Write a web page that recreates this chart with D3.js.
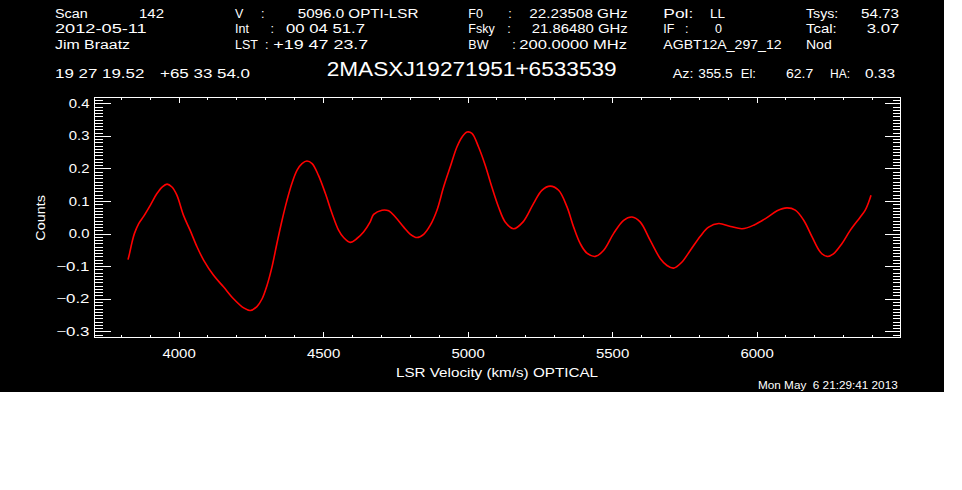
<html>
  <head>
    <meta charset="utf-8">
    <script src="https://d3js.org/d3.v7.min.js"></script>
    <style type="text/css">
      body {
        margin: 0;
        padding: 0;
        background: #fff;
      }
      svg text {
        font-family: 'Liberation Sans', sans-serif;
        fill: #fff;
      }
    </style>
  </head>
  <body>
    <svg id="chart" width="962" height="490"></svg>

    <script>
      /* Spectrum */
      const velocity = [3825, 3830, 3839, 3847, 3862, 3879, 3902, 3925, 3943, 3960,
        3977, 3994, 4017, 4040, 4064, 4087, 4121, 4156, 4190, 4225,
        4248, 4271, 4289, 4306, 4323, 4340, 4358, 4375, 4392, 4410,
        4427, 4444, 4462, 4484, 4508, 4531, 4554, 4571, 4594, 4617,
        4640, 4663, 4675, 4704, 4727, 4750, 4779, 4802, 4825, 4848,
        4871, 4894, 4917, 4940, 4963, 4981, 4998, 5015, 5038, 5061,
        5084, 5107, 5130, 5159, 5192, 5228, 5257, 5286, 5315, 5344,
        5367, 5390, 5413, 5442, 5471, 5505, 5540, 5569, 5597, 5632,
        5667, 5690, 5713, 5742, 5771, 5806, 5834, 5869, 5910, 5950,
        5990, 6036, 6071, 6105, 6134, 6163, 6192, 6221, 6244, 6266,
        6295, 6324, 6359, 6376, 6388, 6396]
      const counts = [-0.080, -0.062, -0.026, 0.000, 0.031, 0.053, 0.087, 0.123, 0.143, 0.152,
        0.143, 0.118, 0.056, 0.010, -0.041, -0.082, -0.128, -0.164, -0.200, -0.228,
        -0.236, -0.224, -0.200, -0.159, -0.103, -0.031, 0.041, 0.102, 0.154, 0.195,
        0.215, 0.223, 0.215, 0.179, 0.123, 0.062, 0.010, -0.012, -0.027, -0.015,
        0.005, 0.036, 0.059, 0.072, 0.070, 0.051, 0.020, -0.002, -0.012, -0.002,
        0.026, 0.072, 0.143, 0.205, 0.266, 0.297, 0.312, 0.308, 0.266, 0.210,
        0.143, 0.082, 0.036, 0.015, 0.036, 0.092, 0.133, 0.146, 0.133, 0.082,
        0.020, -0.031, -0.060, -0.070, -0.051, 0.000, 0.041, 0.051, 0.036, -0.021,
        -0.077, -0.098, -0.106, -0.087, -0.051, -0.007, 0.020, 0.031, 0.022, 0.015,
        0.026, 0.049, 0.070, 0.079, 0.072, 0.041, -0.010, -0.057, -0.070, -0.062,
        -0.031, 0.010, 0.051, 0.072, 0.097, 0.118]

      const xTicks = [4000, 4500, 5000, 5500, 6000]
      const yTicks = [-0.3, -0.2, -0.1, 0.0, 0.1, 0.2, 0.3, 0.4]
      const xDomain = [3709, 6498]
      const yDomain = [-0.319, 0.418]

      const sourceName = '2MASXJ19271951+6533539'
      const xTitle = 'LSR Velocity (km/s) OPTICAL'
      const yTitle = 'Counts'
      const stamp = 'Mon May  6 21:29:41 2013'

      /* header: [x, baseline, text, width] */
      const header = [
        [55, 18.3, 'Scan', 32.7], [139, 18.3, '142', 25],
        [55, 33.3, '2012-05-11', 91.7],
        [55, 49.3, 'Jim Braatz', 75],
        [235, 18.3, 'V'], [261, 18.3, ':'], [297.7, 18.3, '5096.0 OPTI-LSR', 120.7],
        [235, 33.3, 'Int'], [270.5, 33.3, ':'], [286, 33.3, '00 04 51.7', 79],
        [235, 49.3, 'LST', 23], [265, 49.3, ':'], [273.3, 49.3, '+19 47 23.7', 95],
        [468.3, 18.3, 'F0'], [508.3, 18.3, ':'], [529.3, 18.3, '22.23508 GHz', 98.3],
        [468.3, 33.3, 'Fsky'], [507.3, 33.3, ':'], [531.7, 33.3, '21.86480 GHz', 96],
        [468.3, 49.3, 'BW'], [512.3, 49.3, ':'], [519.3, 49.3, '200.0000 MHz', 107.7],
        [663.3, 18.3, 'Pol:', 30], [710, 18.3, 'LL', 15],
        [663.3, 33.3, 'IF'], [685, 33.3, ':'], [715, 33.3, '0'],
        [663.3, 49.3, 'AGBT12A_297_12', 118.3],
        [806, 18.3, 'Tsys:', 32.3], [861, 18.3, '54.73', 38],
        [806, 33.3, 'Tcal:', 30.7], [866.7, 33.3, '3.07', 32.7],
        [806, 49.3, 'Nod', 25.7],
        [55, 77.5, '19 27 19.52', 89.3], [160, 77.5, '+65 33 54.0', 90],
        [672.7, 77.5, 'Az:', 20.7], [698.3, 77.5, '355.5', 34.3],
        [740.7, 77.5, 'El:', 15.3], [786, 77.5, '62.7', 27.3],
        [830, 77.5, 'HA:', 20], [865, 77.5, '0.33', 30]
      ]

      const svg = d3.select('#chart')

      svg.append('rect')
        .attr('width', 944)
        .attr('height', 392)
        .style('fill', '#000')

      const margin = { left: 94.5, top: 97.5, right: 900.5, bottom: 337.5 }

      const x = d3.scaleLinear().domain(xDomain).range([margin.left, margin.right])
      const y = d3.scaleLinear().domain(yDomain).range([margin.bottom, margin.top])

      /* header text */
      svg.append('g')
        .selectAll('text')
        .data(header)
        .join('text')
        .attr('x', d => d[0])
        .attr('y', d => d[1])
        .attr('font-size', '12.5px')
        .attr('xml:space', 'preserve')
        .each(function (d) {
          if (d[3]) {
            d3.select(this)
              .attr('textLength', d[3])
              .attr('lengthAdjust', 'spacingAndGlyphs')
          }
        })
        .text(d => d[2])

      svg.append('text')
        .attr('x', 326.7)
        .attr('y', 75.5)
        .attr('font-size', '20px')
        .attr('textLength', 290)
        .attr('lengthAdjust', 'spacingAndGlyphs')
        .text(sourceName)

      /* axes, ticks pointing inward on all four sides */
      const minorX = d3.range(3800, 6500, 100)
      const minorY = d3.range(-31, 42).map(v => v / 100)

      const axisStyle = g => {
        g.select('.domain').remove()
        g.selectAll('line').attr('stroke', '#fff').attr('shape-rendering', 'crispEdges')
        g.selectAll('text').attr('font-size', '12.5px').attr('fill', '#fff')
      }

      svg.append('g')
        .attr('transform', `translate(0,${margin.bottom})`)
        .call(d3.axisBottom(x).tickValues(minorX).tickSize(-2.7).tickFormat(''))
        .call(axisStyle)

      svg.append('g')
        .attr('transform', `translate(0,${margin.bottom})`)
        .call(d3.axisBottom(x).tickValues(xTicks).tickSize(-5.5).tickPadding(12).tickFormat(d3.format('d')))
        .call(axisStyle)
        .selectAll('text')
        .attr('textLength', 33.3)
        .attr('lengthAdjust', 'spacingAndGlyphs')

      svg.append('g')
        .attr('transform', `translate(0,${margin.top})`)
        .call(d3.axisTop(x).tickValues(minorX).tickSize(-2.7).tickFormat(''))
        .call(axisStyle)

      svg.append('g')
        .attr('transform', `translate(0,${margin.top})`)
        .call(d3.axisTop(x).tickValues(xTicks).tickSize(-5.5).tickFormat(''))
        .call(axisStyle)

      svg.append('g')
        .attr('transform', `translate(${margin.left},0)`)
        .call(d3.axisLeft(y).tickValues(minorY).tickSize(-8).tickFormat(''))
        .call(axisStyle)

      svg.append('g')
        .attr('transform', `translate(${margin.left},0)`)
        .call(d3.axisLeft(y).tickValues(yTicks).tickSize(-16).tickPadding(5).tickFormat(d3.format('.1f')))
        .call(axisStyle)
        .selectAll('text')
        .attr('textLength', d => d < 0 ? 33.3 : 20.7)
        .attr('lengthAdjust', 'spacingAndGlyphs')

      svg.append('g')
        .attr('transform', `translate(${margin.right},0)`)
        .call(d3.axisRight(y).tickValues(minorY).tickSize(-8).tickFormat(''))
        .call(axisStyle)

      svg.append('g')
        .attr('transform', `translate(${margin.right},0)`)
        .call(d3.axisRight(y).tickValues(yTicks).tickSize(-16).tickFormat(''))
        .call(axisStyle)

      svg.append('rect')
        .attr('x', margin.left)
        .attr('y', margin.top)
        .attr('width', margin.right - margin.left)
        .attr('height', margin.bottom - margin.top)
        .attr('shape-rendering', 'crispEdges')
        .style('fill', 'none')
        .style('stroke', '#fff')

      /* axis titles */
      svg.append('text')
        .attr('x', 396)
        .attr('y', 377)
        .attr('font-size', '12.5px')
        .attr('textLength', 202)
        .attr('lengthAdjust', 'spacingAndGlyphs')
        .text(xTitle)

      svg.append('text')
        .attr('transform', 'translate(45,240.7) rotate(-90)')
        .attr('font-size', '12.5px')
        .attr('textLength', 45.7)
        .attr('lengthAdjust', 'spacingAndGlyphs')
        .text(yTitle)

      svg.append('text')
        .attr('x', 758)
        .attr('y', 389.3)
        .attr('font-size', '10.5px')
        .attr('xml:space', 'preserve')
        .attr('textLength', 139.7)
        .attr('lengthAdjust', 'spacingAndGlyphs')
        .text(stamp)

      /* spectrum */
      const line = d3.line()
        .x((d, i) => x(velocity[i]))
        .y(d => y(d))
        .curve(d3.curveCatmullRom)

      svg.append('path')
        .datum(counts)
        .attr('d', line)
        .style('fill', 'none')
        .style('stroke', '#ff0000')
        .style('stroke-width', 1.6)
    </script>
  </body>
</html>
